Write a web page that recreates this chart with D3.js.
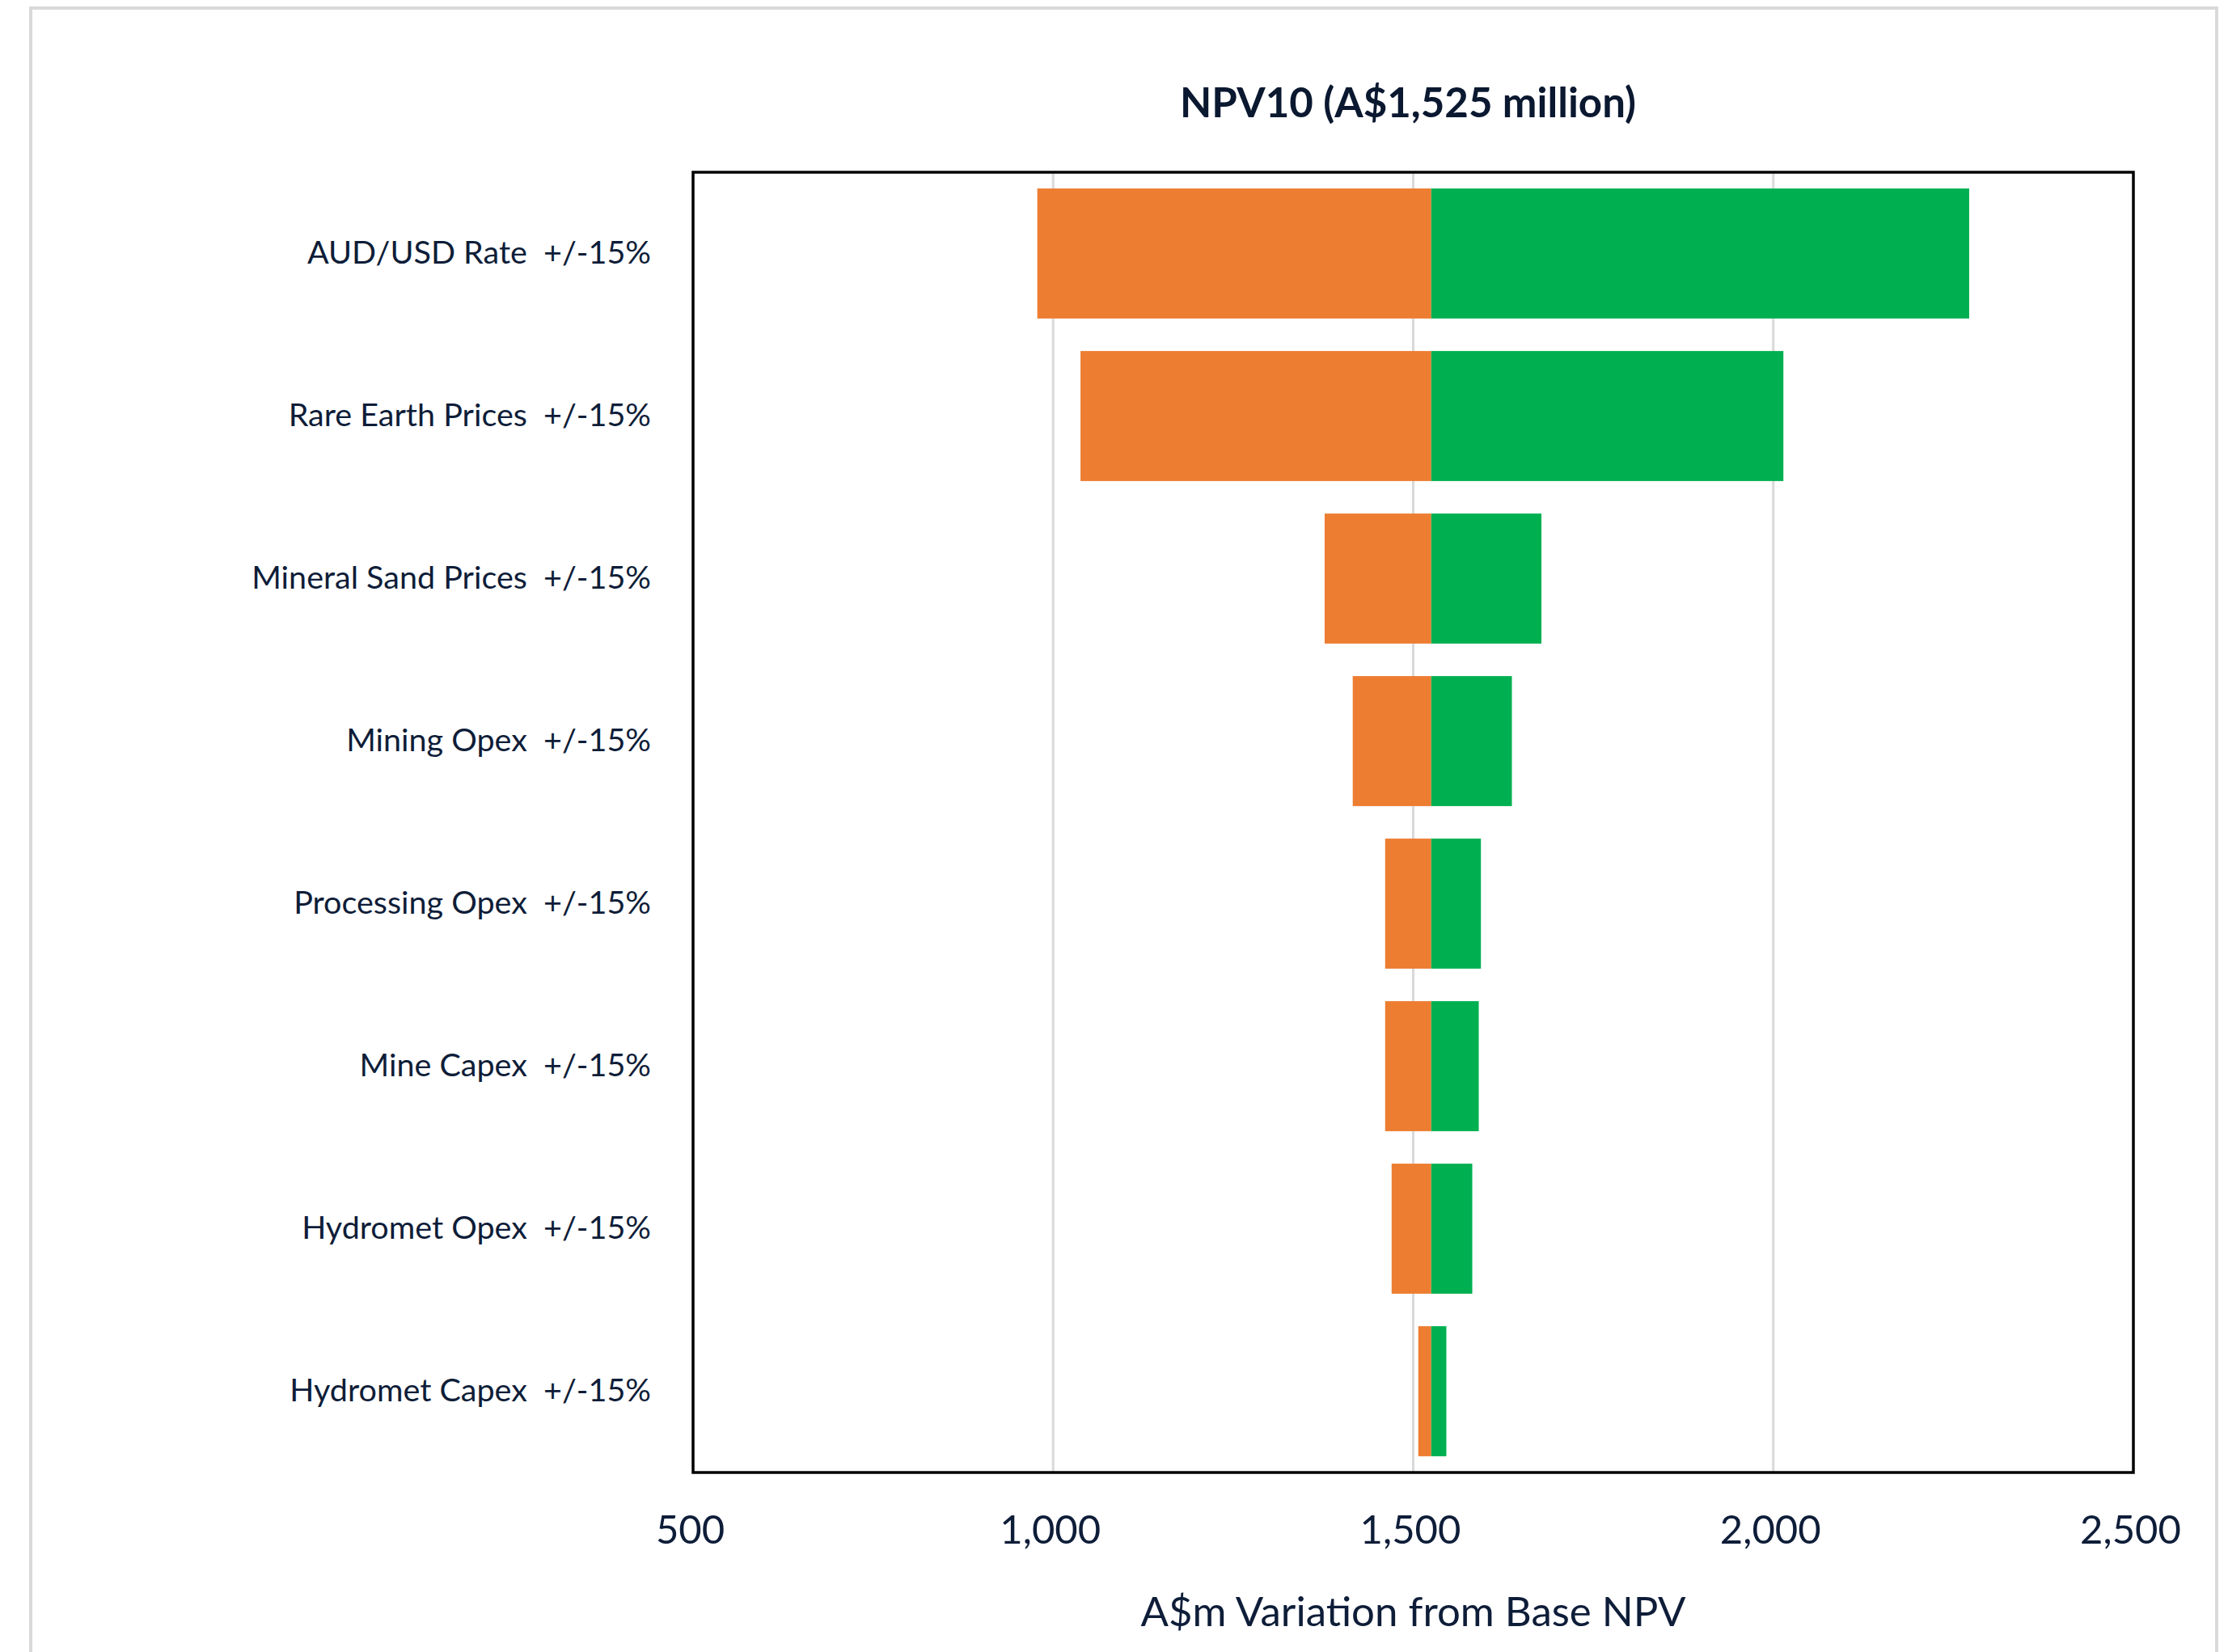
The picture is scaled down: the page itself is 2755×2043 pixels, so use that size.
<!DOCTYPE html>
<html>
<head>
<meta charset="utf-8">
<script src="https://cdn.jsdelivr.net/npm/d3@7"></script>
<style>
  body { margin: 0; background: #fff; }
  text { font-family: Lato, "Open Sans", sans-serif; fill: #0e1d38; }
  .title { font-weight: bold; font-size: 51px; fill: #0a1830; }
  .y-axis text { font-size: 39.5px; white-space: pre; }
  .x-axis text { font-size: 49px; }
  .x-title { font-size: 51px; }
</style>
</head>
<body>
<svg id="chart"></svg>
<script>
// chart data
const categories = [
  'AUD/USD Rate  +/-15%',
  'Rare Earth Prices  +/-15%',
  'Mineral Sand Prices  +/-15%',
  'Mining Opex  +/-15%',
  'Processing Opex  +/-15%',
  'Mine Capex  +/-15%',
  'Hydromet Opex  +/-15%',
  'Hydromet Capex  +/-15%'
];
const lowValues  = [978, 1038, 1377, 1416, 1461, 1461, 1470, 1507];
const highValues = [2272, 2014, 1678, 1637, 1594, 1591, 1582, 1546];
const baseNPV = 1525;
const xTicks = [500, 1000, 1500, 2000, 2500];
const chartTitle = 'NPV10 (A$1,525 million)';
const xAxisLabel = 'A$m Variation from Base NPV';

class TornadoChart {

  constructor(_config) {
    this.config = {
      parentElement: _config.parentElement,
      containerWidth: _config.containerWidth || 2755,
      containerHeight: _config.containerHeight || 2043,
      margin: _config.margin || {top: 213, right: 117, bottom: 222, left: 857}
    };
    this.initVis();
  }

  initVis() {
    let vis = this;

    vis.width = vis.config.containerWidth - vis.config.margin.left - vis.config.margin.right;
    vis.height = vis.config.containerHeight - vis.config.margin.top - vis.config.margin.bottom;

    vis.svg = d3.select(vis.config.parentElement)
        .attr('width', vis.config.containerWidth)
        .attr('height', vis.config.containerHeight);

    // light grey outer frame (no bottom edge visible)
    vis.svg.append('path')
        .attr('d', `M38,${vis.config.containerHeight + 5} V10 H2741 V${vis.config.containerHeight + 5}`)
        .attr('fill', 'none')
        .attr('stroke', '#d9d9d9')
        .attr('stroke-width', 4);

    vis.chart = vis.svg.append('g')
        .attr('transform', `translate(${vis.config.margin.left},${vis.config.margin.top})`);

    vis.xScale = d3.scaleLinear()
        .domain([xTicks[0], xTicks[xTicks.length - 1]])
        .range([0, vis.width]);

    vis.yScale = d3.scaleBand()
        .domain(categories)
        .range([0, vis.height])
        .paddingInner(0.2)
        .paddingOuter(0.1);

    vis.xAxis = d3.axisBottom(vis.xScale)
        .tickValues(xTicks)
        .tickSize(0)
        .tickPadding(53)
        .tickFormat(d3.format(','));

    vis.yAxis = d3.axisLeft(vis.yScale)
        .tickSize(0)
        .tickPadding(52);

    // gridlines
    vis.chart.append('g')
        .selectAll('line')
        .data(xTicks.slice(1, -1))
      .join('line')
        .attr('x1', d => vis.xScale(d))
        .attr('x2', d => vis.xScale(d))
        .attr('y1', 0)
        .attr('y2', vis.height)
        .attr('stroke', '#d9d9d9')
        .attr('stroke-width', 3);

    vis.xAxisG = vis.chart.append('g')
        .attr('class', 'axis x-axis')
        .attr('transform', `translate(-4,${vis.height})`);

    vis.yAxisG = vis.chart.append('g')
        .attr('class', 'axis y-axis');

    vis.svg.append('text')
        .attr('class', 'title')
        .attr('x', 1741)
        .attr('y', 145)
        .style('text-anchor', 'middle')
        .text(chartTitle);

    vis.svg.append('text')
        .attr('class', 'x-title')
        .attr('x', vis.config.margin.left + vis.width / 2)
        .attr('y', 2011)
        .style('text-anchor', 'middle')
        .text(xAxisLabel);

    vis.data = categories.map((c, i) => ({name: c, low: lowValues[i], high: highValues[i]}));

    vis.updateVis();
  }

  updateVis() {
    let vis = this;

    // downside (orange) from low value to base
    vis.chart.selectAll('.bar-low')
        .data(vis.data)
      .join('rect')
        .attr('class', 'bar-low')
        .attr('x', d => vis.xScale(d.low))
        .attr('y', d => vis.yScale(d.name))
        .attr('width', d => vis.xScale(baseNPV) - vis.xScale(d.low))
        .attr('height', vis.yScale.bandwidth())
        .attr('fill', '#ed7d31');

    // upside (green) from base to high value
    vis.chart.selectAll('.bar-high')
        .data(vis.data)
      .join('rect')
        .attr('class', 'bar-high')
        .attr('x', vis.xScale(baseNPV))
        .attr('y', d => vis.yScale(d.name))
        .attr('width', d => vis.xScale(d.high) - vis.xScale(baseNPV))
        .attr('height', vis.yScale.bandwidth())
        .attr('fill', '#00b050');

    // plot frame
    vis.chart.append('rect')
        .attr('width', vis.width)
        .attr('height', vis.height)
        .attr('fill', 'none')
        .attr('stroke', '#000')
        .attr('stroke-width', 3.5);

    vis.xAxisG
      .call(vis.xAxis)
      .call(g => g.select('.domain').remove());

    vis.yAxisG
      .call(vis.yAxis)
      .call(g => g.select('.domain').remove());

    vis.svg.selectAll('.axis text').style('fill', '#0e1d38');
  }
}

new TornadoChart({parentElement: '#chart'});
</script>
</body>
</html>
